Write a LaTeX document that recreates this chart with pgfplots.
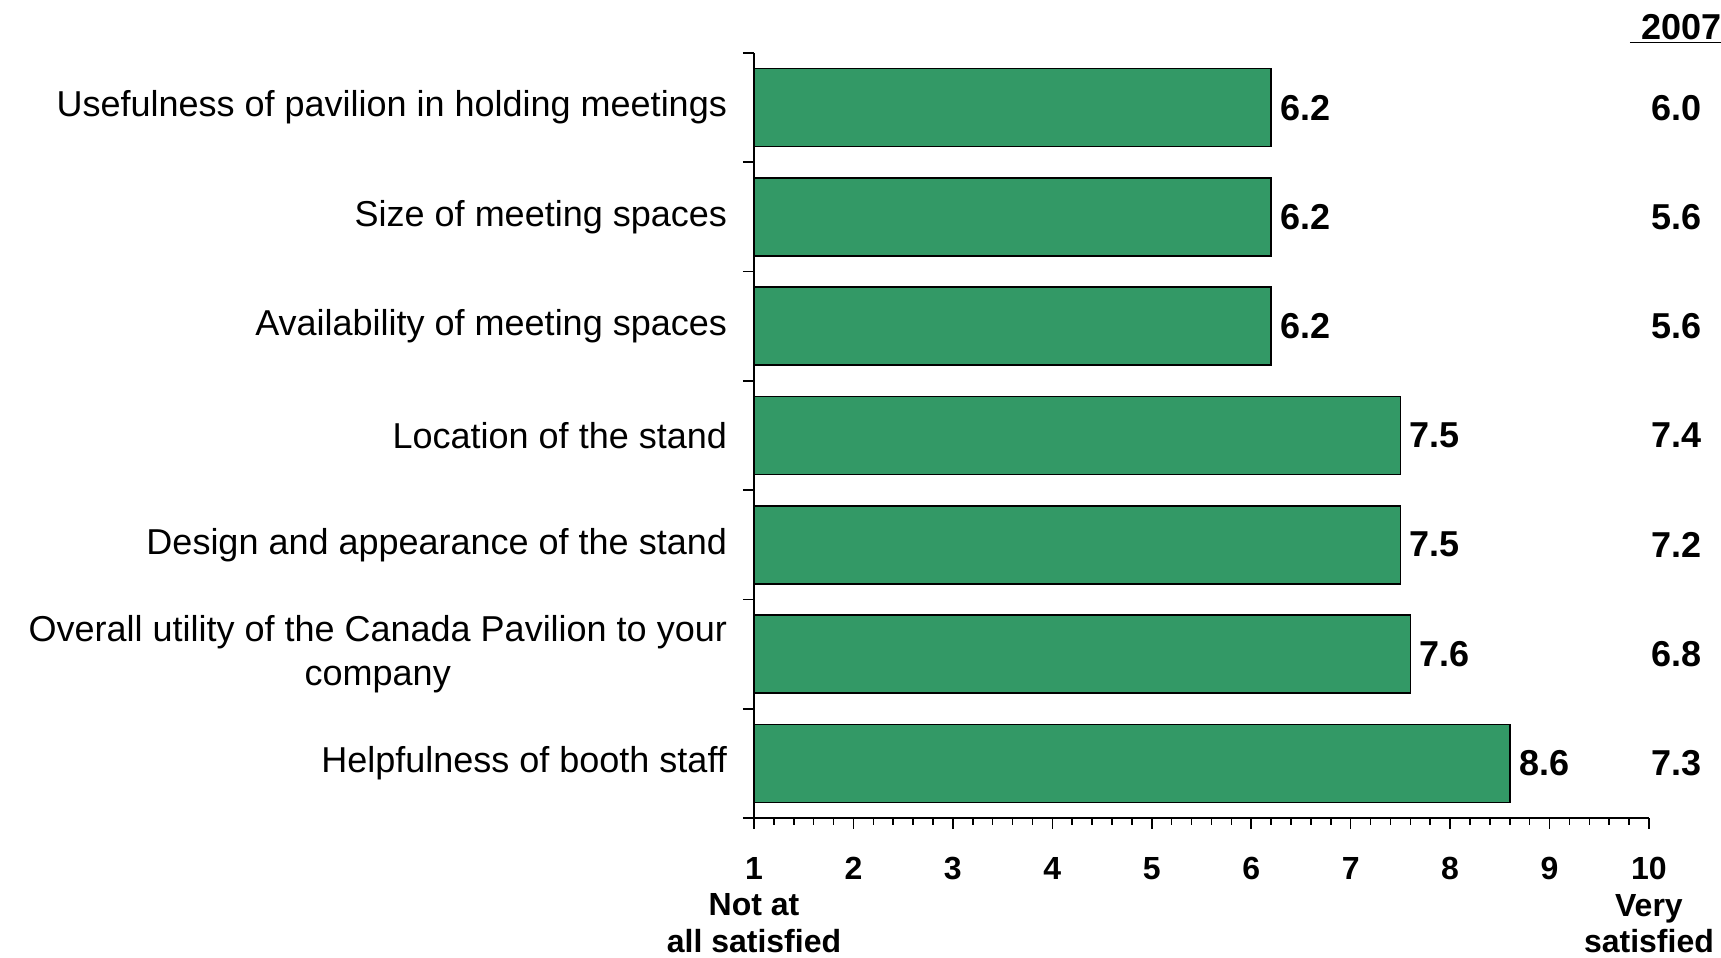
\documentclass[border=0pt]{standalone}
\usepackage{pgfplots}
\pgfplotsset{compat=1.18}
\usepackage{pgfplotstable}
\usepackage{fontspec}
\setmainfont{Liberation Sans}
\definecolor{bargreen}{HTML}{339966}

% pos: 1 = bottom bar; v = current score, v2007 = 2007 score
\pgfplotstableread{
pos v   v2007
7   6.2 6.0
6   6.2 5.6
5   6.2 5.6
4   7.5 7.4
3   7.5 7.2
2   7.6 6.8
1   8.6 7.3
}\scores

\begin{document}
\begin{tikzpicture}
\path[use as bounding box] (0,0) rectangle (860.5pt,479pt);
\begin{axis}[
  at={(377pt,70pt)}, anchor=south west,
  scale only axis, width=447.5pt, height=382.5pt,
  xmin=0, xmax=9, ymin=0.5, ymax=7.5,
  axis lines=left, axis line style={-, line width=1pt},
  tick align=outside, major tick length=5.5pt, minor tick length=3.5pt,
  tick style={black, line width=0.8pt},
  xtick={0,...,9},
  xticklabels={{1\\Not at\\all satisfied},2,3,4,5,6,7,8,9,{10\\Very\\satisfied}},
  xticklabel style={font=\fontsize{16}{18.3}\selectfont\bfseries, align=center, yshift=-10.5pt},
  minor x tick num=4,
  ytick={0.5,1.5,...,7.5}, yticklabels={},
  extra y ticks={1,...,7},
  extra y tick labels={Helpfulness of booth staff,
    {Overall utility of the Canada Pavilion to your\\company},
    Design and appearance of the stand, Location of the stand,
    Availability of meeting spaces, Size of meeting spaces,
    Usefulness of pavilion in holding meetings},
  extra y tick style={major tick length=0pt,
    yticklabel style={font=\fontsize{18}{22}\selectfont, align=center, xshift=-10pt}},
  clip=false,
]
\addplot[xbar, bar width=39pt, fill=bargreen, draw=black, line width=0.75pt,
  nodes near coords, point meta=explicit symbolic,
  every node near coord/.style={font=\fontsize{18}{21}\selectfont\bfseries, anchor=west, xshift=1pt}]
  table[x expr=\thisrow{v}-1, y=pos, meta=v]{\scores};
\addplot[draw=none, mark=none,
  nodes near coords, point meta=explicit symbolic,
  every node near coord/.style={font=\fontsize{18}{21}\selectfont\bfseries, anchor=center}]
  table[x expr=9.28, y=pos, meta=v2007]{\scores};
\node[font=\fontsize{18}{21}\selectfont\bfseries] at (axis cs:9.27,7.72) {\underline{\,\,2007}};
\end{axis}
\end{tikzpicture}
\end{document}
